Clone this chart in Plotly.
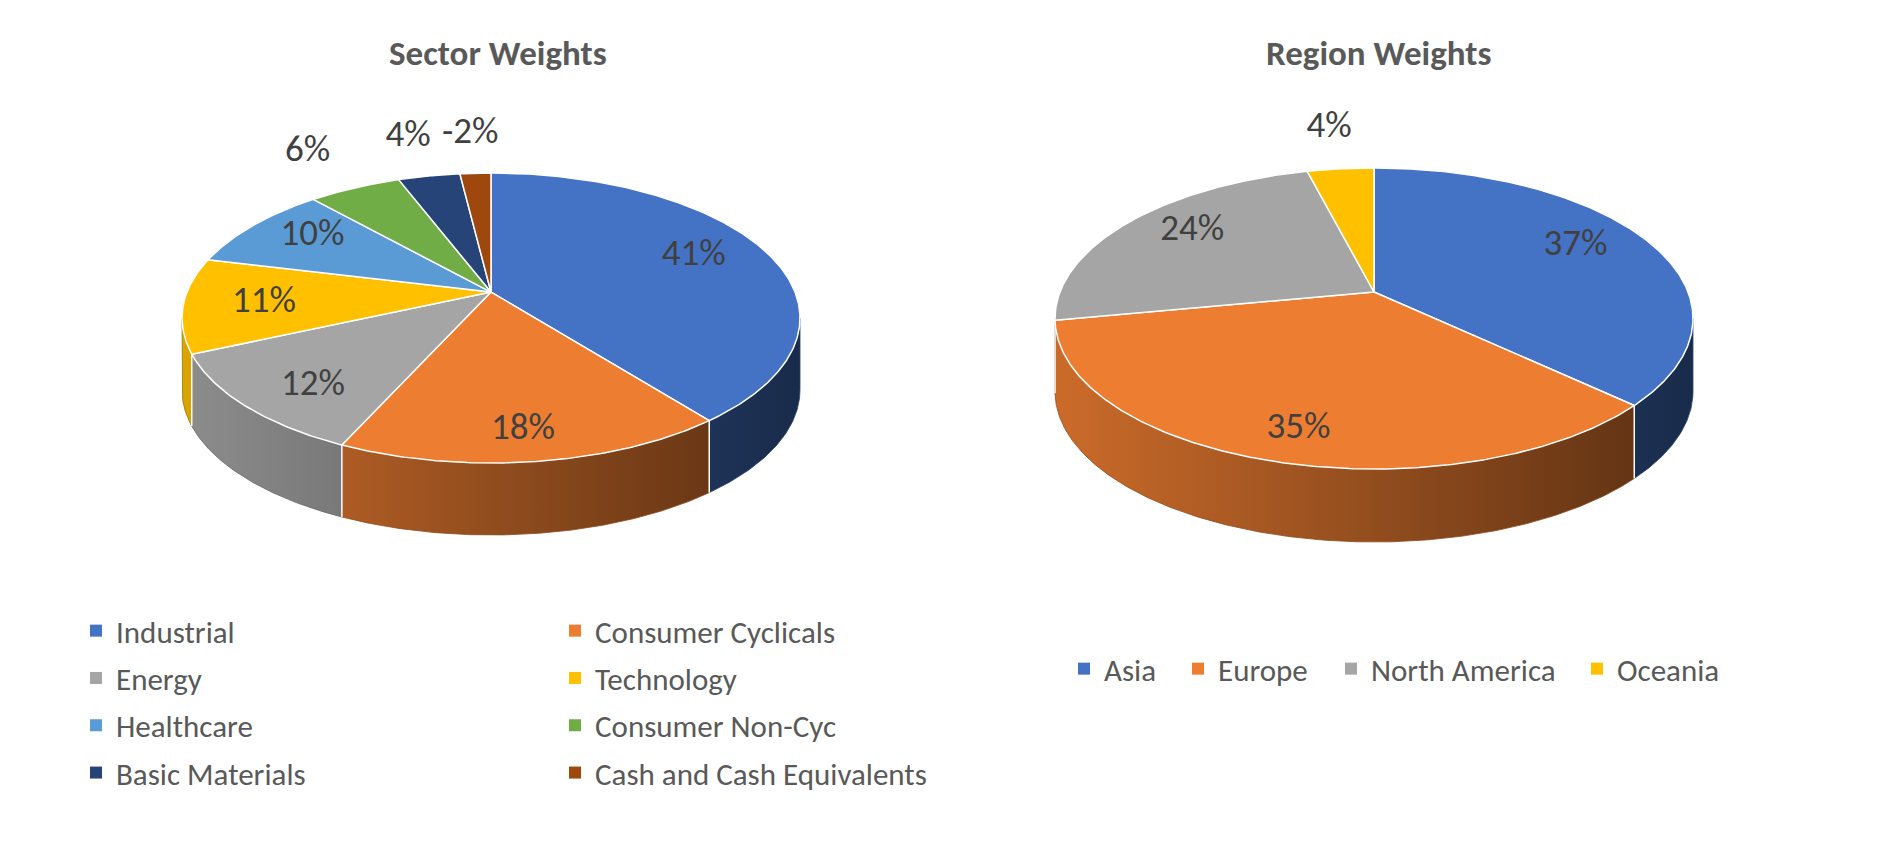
import math
import plotly.graph_objects as go

# ---------------- data ----------------
sector_title = "Sector Weights"
sector_labels = ["Industrial", "Consumer Cyclicals", "Energy", "Technology",
                 "Healthcare", "Consumer Non-Cyc", "Basic Materials",
                 "Cash and Cash Equivalents"]
sector_values = [41, 18, 12, 11, 10, 6, 4, -2]
sector_colors = ["#4472C4", "#ED7D31", "#A5A5A5", "#FFC000",
                 "#5B9BD5", "#70AD47", "#264478", "#9E480E"]

region_title = "Region Weights"
region_labels = ["Asia", "Europe", "North America", "Oceania"]
region_values = [37, 35, 24, 4]
region_colors = ["#4472C4", "#ED7D31", "#A5A5A5", "#FFC000"]

# ---------------- layout constants ----------------
W, H = 1885, 864
FONT = "Carlito, Lato, sans-serif"
LABEL_COLOR = "#404040"
TEXT_COLOR = "#595959"
REGION_LEGEND_X = [1064, 1178, 1331, 1577]   # px positions of region legend entries


def hex_rgb(h):
    h = h.lstrip("#")
    return tuple(int(h[i:i + 2], 16) for i in (0, 2, 4))


def shade(h, f):
    r, g, b = hex_rgb(h)
    return "rgb(%d,%d,%d)" % (min(255, r * f), min(255, g * f), min(255, b * f))


def pie3d(fig, values, colors, cx, cy, rx, ry, a, depth):
    c = math.sqrt(1 - a * a)

    def proj(u, v):
        den = 1 + a * v
        return cx + rx * u * c / den, cy + ry * (v + a) / den

    def pt(theta, fx=1.0, fy=None):
        fy = fx if fy is None else fy
        return proj(fx * math.sin(theta), -fy * math.cos(theta))

    mags = [abs(v) for v in values]
    total = float(sum(mags))
    bounds = [0.0]
    for m in mags:
        bounds.append(bounds[-1] + m / total * 2 * math.pi)

    vis_lo = math.acos(a)
    vis_hi = 2 * math.pi - math.acos(a)
    step = math.radians(0.5)

    def arc(t0, t1):
        n = max(2, int(abs(t1 - t0) / step) + 1)
        return [t0 + (t1 - t0) * k / (n - 1) for k in range(n)]

    # side walls
    for i, col in enumerate(colors):
        t0 = max(bounds[i], vis_lo)
        t1 = min(bounds[i + 1], vis_hi)
        if t0 >= t1:
            continue
        ts = arc(t0, t1)
        top = [pt(t) for t in ts]
        xs = [p[0] for p in top] + [p[0] for p in reversed(top)] + [top[0][0]]
        ys = [p[1] for p in top] + [p[1] + depth for p in reversed(top)] + [top[0][1]]
        fig.add_trace(go.Scatter(
            x=xs, y=ys, mode="lines", fill="toself",
            line=dict(width=0.8, color=shade(col, 0.6)),
            fillgradient=dict(type="horizontal", start=cx - rx, stop=cx + rx,
                              colorscale=[[0, shade(col, 0.86)],
                                          [0.5, shade(col, 0.62)],
                                          [1, shade(col, 0.38)]]),
            hoverinfo="skip", showlegend=False))

    # seams on the side
    sx, sy = [], []
    for b in bounds[:-1]:
        if vis_lo < b < vis_hi:
            x0, y0 = pt(b)
            sx += [x0, x0, None]
            sy += [y0, y0 + depth, None]
    if sx:
        fig.add_trace(go.Scatter(x=sx, y=sy, mode="lines",
                                 line=dict(color="white", width=1.5),
                                 hoverinfo="skip", showlegend=False))

    # top faces
    ax, ay = proj(0, 0)
    for i, col in enumerate(colors):
        ts = arc(bounds[i], bounds[i + 1])
        pts = [pt(t) for t in ts]
        xs = [ax] + [p[0] for p in pts] + [ax]
        ys = [ay] + [p[1] for p in pts] + [ay]
        fig.add_trace(go.Scatter(
            x=xs, y=ys, mode="lines", fill="toself", fillcolor=col,
            line=dict(color="white", width=1.5),
            hoverinfo="skip", showlegend=False))

    # data labels
    lx, ly, lt = [], [], []
    for i, v in enumerate(values):
        mid = (bounds[i] + bounds[i + 1]) / 2
        if mags[i] / total >= 0.07:
            x, y = pt(mid, 0.74, 0.84)
        else:
            x, y = pt(mid, 1.42)
        lx.append(x)
        ly.append(y)
        lt.append("%d%%" % v)
    fig.add_trace(go.Scatter(
        x=lx, y=ly, text=lt, mode="text", textposition="middle center",
        textfont=dict(family=FONT, size=37, color=LABEL_COLOR),
        hoverinfo="skip", showlegend=False))


fig = go.Figure()

pie3d(fig, sector_values, sector_colors, cx=491, cy=318, rx=309, ry=145,
      a=-0.179, depth=72)
pie3d(fig, region_values, region_colors, cx=1374, cy=318.5, rx=319, ry=150.5,
      a=-0.176, depth=73)

# legend entries
for i, (lab, col) in enumerate(zip(sector_labels, sector_colors)):
    fig.add_trace(go.Scatter(
        x=[None], y=[None], mode="markers", name=lab,
        marker=dict(symbol="square", size=12, color=col),
        legend="legend" if i % 2 == 0 else "legend2",
        legendgroup=lab, hoverinfo="skip"))
for i, (lab, col) in enumerate(zip(region_labels, region_colors)):
    fig.add_trace(go.Scatter(
        x=[None], y=[None], mode="markers", name=lab,
        marker=dict(symbol="square", size=12, color=col),
        legend="legend%d" % (i + 3), hoverinfo="skip"))

legend_font = dict(family=FONT, size=31, color=TEXT_COLOR)
common = dict(font=legend_font, bgcolor="rgba(0,0,0,0)",
              itemclick=False, itemdoubleclick=False)
layout_legends = dict(
    legend=dict(x=76 / W, xanchor="left", y=1 - 702 / H, yanchor="middle",
                orientation="v", tracegroupgap=4, **common),
    legend2=dict(x=555 / W, xanchor="left", y=1 - 702 / H, yanchor="middle",
                 orientation="v", tracegroupgap=4, **common),
)
for i, px in enumerate(REGION_LEGEND_X):
    layout_legends["legend%d" % (i + 3)] = dict(
        x=px / W, xanchor="left", y=1 - 669 / H, yanchor="middle",
        orientation="h", **common)

fig.update_layout(
    width=W, height=H,
    margin=dict(l=0, r=0, t=0, b=0),
    paper_bgcolor="white", plot_bgcolor="white",
    xaxis=dict(range=[0, W], visible=False, fixedrange=True),
    yaxis=dict(range=[H, 0], visible=False, fixedrange=True),
    showlegend=True,
    annotations=[
        dict(text="<b>%s</b>" % sector_title, x=498, y=53, xref="x", yref="y",
             showarrow=False, font=dict(family=FONT, size=35, color=TEXT_COLOR)),
        dict(text="<b>%s</b>" % region_title, x=1378, y=53, xref="x", yref="y",
             showarrow=False, font=dict(family=FONT, size=35, color=TEXT_COLOR)),
    ],
    **layout_legends,
)

fig.write_html("out.html", config={"displayModeBar": False},
               post_script="document.body.style.margin='0';")
